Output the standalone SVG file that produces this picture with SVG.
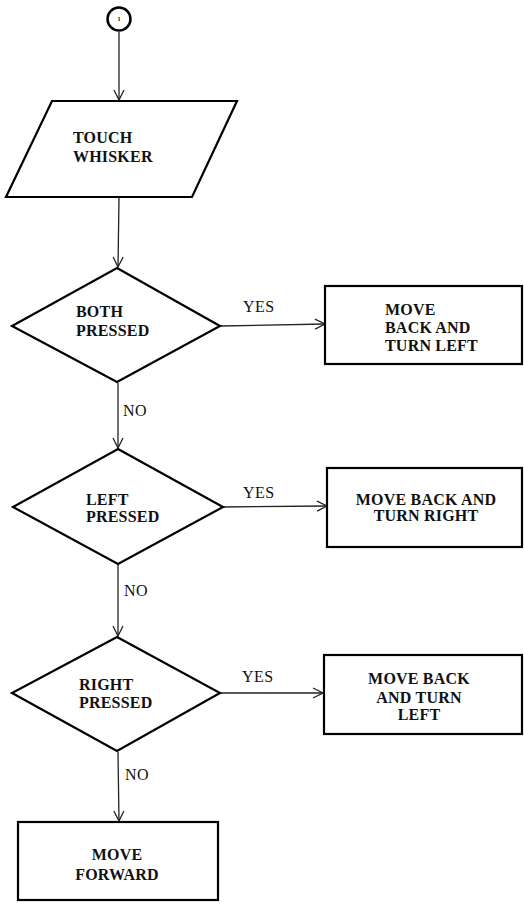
<svg xmlns="http://www.w3.org/2000/svg" width="524" height="904" viewBox="0 0 524 904">
<style>
.shape{fill:#fff;stroke:#000;stroke-width:2.2}
.conn{fill:none;stroke:#222;stroke-width:1.3}
.t{font-family:"Liberation Serif","Times New Roman",serif;font-weight:bold;font-size:16px;letter-spacing:0.2px;fill:#111}
.lbl{font-family:"Liberation Serif","Times New Roman",serif;font-size:16px;letter-spacing:0.5px;fill:#111}
.c{text-anchor:middle}
</style>
<defs>
<marker id="arr" viewBox="0 0 12 12" refX="11" refY="6" markerWidth="12" markerHeight="12" markerUnits="userSpaceOnUse" orient="auto">
<path d="M1,1 L11,6 L1,11" fill="none" stroke="#222" stroke-width="1.3"/>
</marker>
</defs>
<g id="connectors">
<line class="conn" x1="119" y1="32" x2="119" y2="100" marker-end="url(#arr)"/>
<line class="conn" x1="119" y1="198" x2="118" y2="267" marker-end="url(#arr)"/>
<line class="conn" x1="220" y1="326" x2="325" y2="324" marker-end="url(#arr)"/>
<line class="conn" x1="118" y1="383" x2="118" y2="448" marker-end="url(#arr)"/>
<line class="conn" x1="223" y1="507" x2="327" y2="506" marker-end="url(#arr)"/>
<line class="conn" x1="118" y1="565" x2="118" y2="636" marker-end="url(#arr)"/>
<line class="conn" x1="220" y1="693" x2="323" y2="693" marker-end="url(#arr)"/>
<line class="conn" x1="118" y1="752" x2="119" y2="821" marker-end="url(#arr)"/>
<text class="lbl" x="243" y="312">YES</text>
<text class="lbl" x="123" y="416">NO</text>
<text class="lbl" x="243" y="498">YES</text>
<text class="lbl" x="124" y="596">NO</text>
<text class="lbl" x="242" y="682">YES</text>
<text class="lbl" x="125" y="780">NO</text>
</g>
<g id="start">
<circle cx="119" cy="19" r="11.5" fill="#fff" stroke="#000" stroke-width="2.5"/>
<text x="119" y="21" text-anchor="middle" font-family="Liberation Serif, serif" font-size="6" font-weight="bold">1</text>
</g>
<g id="touch-whisker">
<polygon class="shape" points="52,101 237,101 192,197 6,197"/>
<text class="t" x="73" y="143">TOUCH</text>
<text class="t" x="73" y="162">WHISKER</text>
</g>
<g id="both-pressed">
<polygon class="shape" points="117,268 220,326 117,382 12,326"/>
<text class="t" x="76" y="317">BOTH</text>
<text class="t" x="76" y="336">PRESSED</text>
</g>
<g id="back-left-1">
<rect class="shape" x="325" y="286" width="197" height="78"/>
<text class="t" x="385" y="315">MOVE</text>
<text class="t" x="385" y="333">BACK AND</text>
<text class="t" x="385" y="351">TURN LEFT</text>
</g>
<g id="left-pressed">
<polygon class="shape" points="118,449 223,507 118,564 13,507"/>
<text class="t" x="86" y="505">LEFT</text>
<text class="t" x="86" y="522">PRESSED</text>
</g>
<g id="back-right">
<rect class="shape" x="327" y="468" width="195" height="79"/>
<text class="t c" x="426" y="505">MOVE BACK AND</text>
<text class="t c" x="426" y="521">TURN RIGHT</text>
</g>
<g id="right-pressed">
<polygon class="shape" points="117,637 220,693 117,751 12,693"/>
<text class="t" x="79" y="690">RIGHT</text>
<text class="t" x="79" y="708">PRESSED</text>
</g>
<g id="back-left-2">
<rect class="shape" x="324" y="655" width="198" height="79"/>
<text class="t c" x="419" y="684">MOVE BACK</text>
<text class="t c" x="419" y="703">AND TURN</text>
<text class="t c" x="419" y="720">LEFT</text>
</g>
<g id="move-forward">
<rect class="shape" x="18" y="822" width="200" height="78"/>
<text class="t c" x="117" y="860">MOVE</text>
<text class="t c" x="117" y="880">FORWARD</text>
</g>
</svg>
